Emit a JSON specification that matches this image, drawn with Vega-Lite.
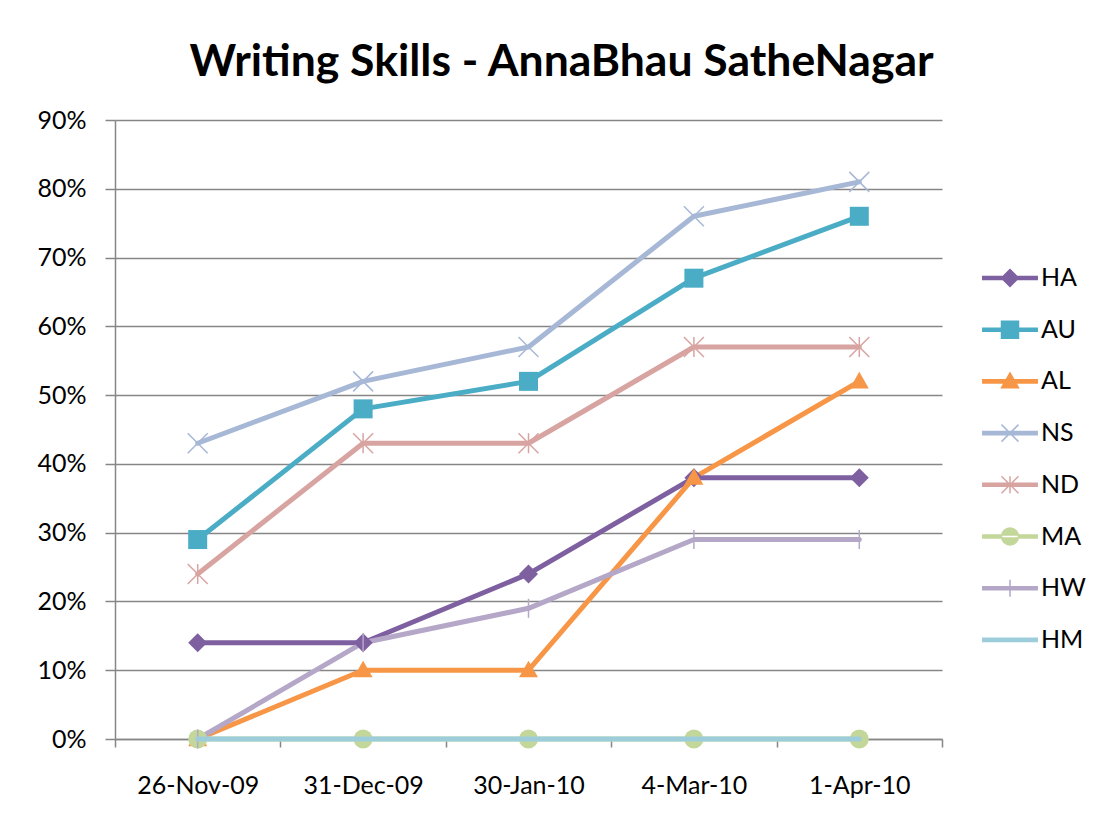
{
  "$schema": "https://vega.github.io/schema/vega-lite/v6.json",
  "width": 827,
  "height": 619,
  "autosize": {"type": "none"},
  "padding": {"left": 115, "top": 120, "right": 167, "bottom": 88},
  "background": "white",
  "title": {
    "text": "Writing Skills - AnnaBhau SatheNagar",
    "font": "Lato",
    "fontWeight": "bold",
    "fontSize": 44.5,
    "color": "black",
    "anchor": "middle",
    "frame": "group",
    "baseline": "alphabetic",
    "offset": -12,
    "dx": 33
  },
  "config": {
    "view": {"stroke": null},
    "font": "Lato",
    "axis": {
      "labelFont": "Lato",
      "labelFontSize": 25,
      "labelColor": "black",
      "domainColor": "#868686",
      "domainWidth": 1.5,
      "tickColor": "#868686",
      "tickWidth": 1.5,
      "gridColor": "#868686",
      "gridWidth": 1.5,
      "title": null
    }
  },
  "data": {
    "values": [
      {"series": "HA", "date": "26-Nov-09", "value": 14},
      {"series": "HA", "date": "31-Dec-09", "value": 14},
      {"series": "HA", "date": "30-Jan-10", "value": 24},
      {"series": "HA", "date": "4-Mar-10", "value": 38},
      {"series": "HA", "date": "1-Apr-10", "value": 38},
      {"series": "AU", "date": "26-Nov-09", "value": 29},
      {"series": "AU", "date": "31-Dec-09", "value": 48},
      {"series": "AU", "date": "30-Jan-10", "value": 52},
      {"series": "AU", "date": "4-Mar-10", "value": 67},
      {"series": "AU", "date": "1-Apr-10", "value": 76},
      {"series": "AL", "date": "26-Nov-09", "value": 0},
      {"series": "AL", "date": "31-Dec-09", "value": 10},
      {"series": "AL", "date": "30-Jan-10", "value": 10},
      {"series": "AL", "date": "4-Mar-10", "value": 38},
      {"series": "AL", "date": "1-Apr-10", "value": 52},
      {"series": "NS", "date": "26-Nov-09", "value": 43},
      {"series": "NS", "date": "31-Dec-09", "value": 52},
      {"series": "NS", "date": "30-Jan-10", "value": 57},
      {"series": "NS", "date": "4-Mar-10", "value": 76},
      {"series": "NS", "date": "1-Apr-10", "value": 81},
      {"series": "ND", "date": "26-Nov-09", "value": 24},
      {"series": "ND", "date": "31-Dec-09", "value": 43},
      {"series": "ND", "date": "30-Jan-10", "value": 43},
      {"series": "ND", "date": "4-Mar-10", "value": 57},
      {"series": "ND", "date": "1-Apr-10", "value": 57},
      {"series": "MA", "date": "26-Nov-09", "value": 0},
      {"series": "MA", "date": "31-Dec-09", "value": 0},
      {"series": "MA", "date": "30-Jan-10", "value": 0},
      {"series": "MA", "date": "4-Mar-10", "value": 0},
      {"series": "MA", "date": "1-Apr-10", "value": 0},
      {"series": "HW", "date": "26-Nov-09", "value": 0},
      {"series": "HW", "date": "31-Dec-09", "value": 14},
      {"series": "HW", "date": "30-Jan-10", "value": 19},
      {"series": "HW", "date": "4-Mar-10", "value": 29},
      {"series": "HW", "date": "1-Apr-10", "value": 29},
      {"series": "HM", "date": "26-Nov-09", "value": 0},
      {"series": "HM", "date": "31-Dec-09", "value": 0},
      {"series": "HM", "date": "30-Jan-10", "value": 0},
      {"series": "HM", "date": "4-Mar-10", "value": 0},
      {"series": "HM", "date": "1-Apr-10", "value": 0}
    ]
  },
  "encoding": {
    "x": {
      "field": "date",
      "type": "ordinal",
      "sort": ["26-Nov-09", "31-Dec-09", "30-Jan-10", "4-Mar-10", "1-Apr-10"],
      "bandPosition": 0.5,
      "scale": {"type": "band", "paddingInner": 0, "paddingOuter": 0},
      "axis": {
        "tickBand": "extent",
        "tickSize": 8,
        "labelPadding": 26,
        "labelAngle": 0,
        "grid": false,
        "domain": true
      }
    },
    "y": {
      "field": "value",
      "type": "quantitative",
      "scale": {"domain": [0, 90], "nice": false, "zero": true},
      "axis": {
        "values": [0, 10, 20, 30, 40, 50, 60, 70, 80, 90],
        "labelExpr": "datum.value + '%'",
        "tickSize": 10,
        "labelPadding": 19,
        "grid": true
      }
    },
    "color": {
      "field": "series",
      "type": "nominal",
      "scale": {
        "domain": ["HA", "AU", "AL", "NS", "ND", "MA", "HW", "HM"],
        "range": ["#7E60A1", "#4BACC6", "#F79646", "#A7B8D6", "#D8A4A1", "#C4D79B", "#B5A7C7", "#9DCDDB"]
      },
      "legend": {
        "orient": "none",
        "legendX": 882.5,
        "legendY": 145.5,
        "title": null,
        "padding": 0,
        "symbolSize": 289,
        "symbolStrokeWidth": 1.5,
        "symbolOffset": 0,
        "labelOffset": 18.5,
        "rowPadding": 25.7,
        "labelFont": "Lato",
        "labelFontSize": 25,
        "labelColor": "black",
        "encode": {
          "symbols": {
            "update": {
              "fill": {"scale": "color", "field": "value"},
              "stroke": {"scale": "color", "field": "value"},
              "fillOpacity": {"value": 1},
              "strokeOpacity": {"value": 1},
              "opacity": {"value": 1},
              "strokeWidth": {"value": 1.5},
              "shape": {"signal": "{'HA':'M-3.2,-0.18H3.2V0.18H-3.2Z M0,-1L1,0L0,1L-1,0Z','AU':'M-3.2,-0.18H3.2V0.18H-3.2Z M-1,-1H1V1H-1Z','AL':'M-3.2,-0.18H3.2V0.18H-3.2Z M0,-1L1,0.75H-1Z','NS':'M-3.2,-0.18H3.2V0.18H-3.2Z M-1,-1L1,1M-1,1L1,-1','ND':'M-3.2,-0.18H3.2V0.18H-3.2Z M-1,-1L1,1M-1,1L1,-1M0,-1L0,1','MA':'M-3.2,-0.18H3.2V0.18H-3.2Z M-1,0A1,1 0 1,0 1,0A1,1 0 1,0 -1,0Z','HW':'M-3.2,-0.18H3.2V0.18H-3.2Z M0,-1L0,1','HM':'M-3.2,-0.18H3.2V0.18H-3.2Z'}[datum.value]"}
            }
          }
        }
      }
    }
  },
  "layer": [
    {
      "transform": [{"filter": "datum.series !== 'HM'"}],
      "mark": {"type": "line", "strokeWidth": 5, "strokeJoin": "round", "strokeCap": "round"}
    },
    {
      "transform": [{"filter": "datum.series === 'HA'"}],
      "mark": {"type": "point", "filled": true, "opacity": 1, "size": 361, "shape": "diamond"}
    },
    {
      "transform": [{"filter": "datum.series === 'AU'"}],
      "mark": {"type": "point", "filled": true, "opacity": 1, "size": 361, "shape": "square"}
    },
    {
      "transform": [{"filter": "datum.series === 'AL'"}],
      "mark": {"type": "point", "filled": true, "opacity": 1, "size": 361, "shape": "M0,-1L1,0.75H-1Z"}
    },
    {
      "transform": [{"filter": "datum.series === 'NS'"}],
      "mark": {"type": "point", "filled": false, "opacity": 1, "size": 400, "strokeWidth": 1.5, "shape": "M-1,-1L1,1M-1,1L1,-1"}
    },
    {
      "transform": [{"filter": "datum.series === 'ND'"}],
      "mark": {"type": "point", "filled": false, "opacity": 1, "size": 400, "strokeWidth": 1.5, "shape": "M-1,-1L1,1M-1,1L1,-1M0,-1L0,1"}
    },
    {
      "transform": [{"filter": "datum.series === 'MA'"}],
      "mark": {"type": "point", "filled": true, "opacity": 1, "size": 361, "shape": "circle"}
    },
    {
      "transform": [{"filter": "datum.series === 'HW'"}],
      "mark": {"type": "point", "filled": false, "opacity": 1, "size": 361, "strokeWidth": 1.5, "shape": "M0,-1L0,1"}
    },
    {
      "transform": [{"filter": "datum.series === 'HM'"}],
      "mark": {"type": "line", "strokeWidth": 5, "strokeJoin": "round", "strokeCap": "round"}
    }
  ]
}
